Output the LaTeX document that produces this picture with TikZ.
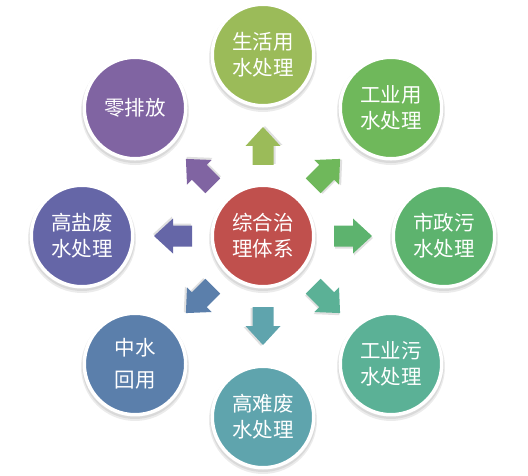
\documentclass[tikz,border=0pt]{standalone}
\usepackage{fontspec}
\newfontfamily\cjk{Noto Sans CJK SC}
\usetikzlibrary{calc}
\definecolor{c0}{HTML}{C0504D}
\definecolor{c1}{HTML}{9BBB59}
\definecolor{c2}{HTML}{6FB85B}
\definecolor{c3}{HTML}{5DB36E}
\definecolor{c4}{HTML}{5BB196}
\definecolor{c5}{HTML}{5FA4AD}
\definecolor{c6}{HTML}{5B7FAB}
\definecolor{c7}{HTML}{6566A7}
\definecolor{c8}{HTML}{8064A2}
\begin{document}
\begin{tikzpicture}[x=1pt,y=1pt,
  disc/.style={circle, draw=white, line width=3.5pt, minimum size=101.5pt, inner sep=0pt,
    text=white, font=\cjk\fontsize{20.5}{26}\selectfont, align=center},
  discshadow/.style={fill=black, opacity=0.08},
  arrowshadow/.style={fill=black, opacity=0.12}]
\useasboundingbox (0,0) rectangle (528,475);
\coordinate (o) at (263,239);
% shadows of discs
\foreach \a in {90,45,0,-45,-90,-135,180,135}{
  \fill[discshadow] ($(o)+(\a:181)+(0,-3)$) circle (54);
  \fill[discshadow] ($(o)+(\a:181)+(0,-2)$) circle (53);
}
\fill[discshadow] ($(o)+(0,-3)$) circle (54);
\fill[discshadow] ($(o)+(0,-2)$) circle (53);
% discs
\node[disc, fill=c0] (c) at (o) {综合治\\理体系};
\node[disc, fill=c1] (n1) at ($(o)+(90:181)$) {生活用\\水处理};
\node[disc, fill=c2] (n2) at ($(o)+(45:181)$) {工业用\\水处理};
\node[disc, fill=c3] (n3) at ($(o)+(0:181)$) {市政污\\水处理};
\node[disc, fill=c4] (n4) at ($(o)+(-45:181)$) {工业污\\水处理};
\node[disc, fill=c5] (n5) at ($(o)+(-90:181)$) {高难废\\水处理};
\node[disc, fill=c6, font=\cjk\fontsize{20.5}{32}\selectfont] (n6) at ($(o)+(-135:181)$) {中水\\回用};
\node[disc, fill=c7] (n7) at ($(o)+(180:181)$) {高盐废\\水处理};
\node[disc, fill=c8] (n8) at ($(o)+(135:181)$) {零排放};
% block arrows
\foreach \a/\col in {90/c1,45/c2,0/c3,-45/c4,-90/c5,-135/c6,180/c7,135/c8}{
  \begin{scope}[shift={(c.center)}, rotate=\a]
    \fill[arrowshadow, shift={(1,-2)}] (71,-10.5) -- (90,-10.5) -- (90,-17.5) -- (109,0) -- (90,17.5) -- (90,10.5) -- (71,10.5) -- cycle;
    \fill[\col] (71,-10.5) -- (90,-10.5) -- (90,-17.5) -- (109,0) -- (90,17.5) -- (90,10.5) -- (71,10.5) -- cycle;
  \end{scope}
}
\end{tikzpicture}
\end{document}
